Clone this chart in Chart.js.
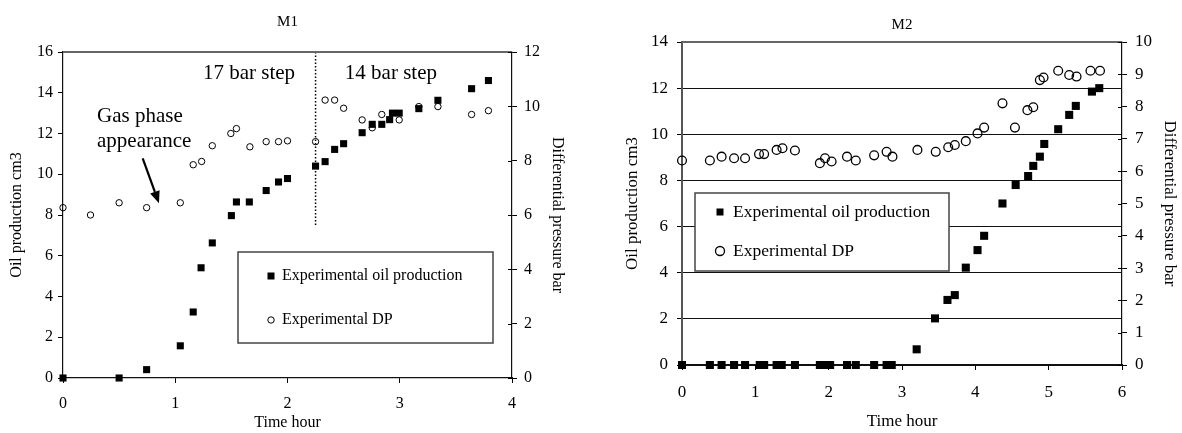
<!DOCTYPE html>
<html>
<head>
<meta charset="utf-8">
<script src="https://cdn.jsdelivr.net/npm/chart.js@4.4.1/dist/chart.umd.min.js"></script>
<style>
  body { margin: 0; background: #fff; }
  #wrap { position: relative; width: 1182px; height: 433px; }
  canvas { position: absolute; top: 0; }
</style>
</head>
<body>
<div id="wrap">
  <canvas id="m1" width="590" height="433" style="left:0"></canvas>
  <canvas id="m2" width="592" height="433" style="left:590px"></canvas>
</div>
<script>
// M1 DATA
// =======
const m1OilTime = [0, 0.50, 0.745, 1.045, 1.16, 1.23, 1.33, 1.50, 1.545, 1.66, 1.81, 1.92, 2.0,
    2.25, 2.335, 2.42, 2.50, 2.665, 2.755, 2.84, 2.91, 2.935, 2.995, 3.17, 3.34, 3.64, 3.79];
const m1Oil = [0, 0, 0.41, 1.58, 3.24, 5.41, 6.63, 7.97, 8.64, 8.64, 9.2, 9.62, 9.79,
    10.4, 10.62, 11.22, 11.5, 12.04, 12.45, 12.45, 12.68, 13.0, 13.0, 13.22, 13.63, 14.2, 14.6];

const m1DpTime = [0, 0.245, 0.50, 0.745, 1.045, 1.16, 1.235, 1.33, 1.495, 1.545, 1.665, 1.81, 1.92, 2.0,
    2.25, 2.335, 2.42, 2.50, 2.665, 2.755, 2.84, 2.995, 3.17, 3.34, 3.64, 3.79];
const m1Dp = [6.27, 6.0, 6.45, 6.27, 6.45, 7.85, 7.97, 8.55, 9.0, 9.18, 8.51, 8.7, 8.7, 8.73,
    8.7, 10.23, 10.23, 9.93, 9.5, 9.21, 9.7, 9.5, 9.99, 9.99, 9.7, 9.84];

// pressure step change (dotted line)
const stepTime = [2.25, 2.25];
const stepOil = [16, 7.45];

// M2 DATA
// =======
const m2OilTime = [0, 0.38, 0.54, 0.71, 0.86, 1.06, 1.12, 1.29, 1.36, 1.54, 1.88, 1.95, 2.02, 2.25, 2.37, 2.62, 2.79, 2.86,
    3.20, 3.45, 3.62, 3.72, 3.87, 4.03, 4.12, 4.37, 4.55, 4.72, 4.79, 4.88, 4.94, 5.13, 5.28, 5.37, 5.59, 5.69];
const m2Oil = [0, 0, 0, 0, 0, 0, 0, 0, 0, 0, 0, 0, 0, 0, 0, 0, 0, 0,
    0.68, 2.02, 2.82, 3.03, 4.22, 4.98, 5.6, 7.0, 7.8, 8.19, 8.63, 9.03, 9.58, 10.22, 10.84, 11.23, 11.85, 12.0];

const m2DpTime = [0, 0.38, 0.54, 0.71, 0.86, 1.05, 1.12, 1.29, 1.37, 1.54, 1.88, 1.95, 2.04, 2.25, 2.37, 2.62, 2.79, 2.87,
    3.21, 3.46, 3.63, 3.72, 3.87, 4.03, 4.12, 4.37, 4.54, 4.71, 4.79, 4.88, 4.93, 5.13, 5.28, 5.38, 5.57, 5.70];
const m2Dp = [6.33, 6.33, 6.45, 6.40, 6.40, 6.53, 6.53, 6.66, 6.71, 6.64, 6.25, 6.40, 6.30, 6.45, 6.33, 6.49, 6.60, 6.45,
    6.66, 6.60, 6.74, 6.81, 6.93, 7.17, 7.35, 8.10, 7.35, 7.89, 7.98, 8.82, 8.90, 9.11, 8.98, 8.93, 9.11, 9.11];

const legendLabels = ['Experimental oil production', 'Experimental DP'];

const SERIF = '"Liberation Serif", "Times New Roman", serif';

function pts(xs, ys) {
    return xs.map((x, i) => ({ x, y: ys[i] }));
}

// DECOR PLUGIN
// ============
// title, frame top line, inner ticks, in-plot legend box, text notes and arrow
const decor = {
    id: 'decor',
    afterDatasetsDraw(chart, args, o) {
        const { ctx, chartArea: a, scales } = chart;
        ctx.save();

        // top frame line
        ctx.strokeStyle = '#666';
        ctx.lineWidth = 2;
        ctx.beginPath();
        ctx.moveTo(a.left, a.top);
        ctx.lineTo(a.right, a.top);
        ctx.stroke();

        // right axis ticks cross the axis line
        ctx.strokeStyle = '#000';
        ctx.lineWidth = 1;
        scales.y1.ticks.forEach((t) => {
            const py = Math.round(scales.y1.getPixelForValue(t.value)) + 0.5;
            ctx.beginPath();
            ctx.moveTo(a.right - 4, py);
            ctx.lineTo(a.right, py);
            ctx.stroke();
        });

        // title
        ctx.fillStyle = '#000';
        ctx.font = `${o.titleSize}px ${SERIF}`;
        ctx.textAlign = 'center';
        ctx.textBaseline = 'middle';
        ctx.fillText(o.title, (a.left + a.right) / 2, o.titleY);

        // notes
        ctx.textAlign = 'left';
        ctx.textBaseline = 'alphabetic';
        (o.notes || []).forEach((n) => {
            ctx.font = `${n.size}px ${SERIF}`;
            ctx.fillText(n.text, scales.x.getPixelForValue(n.x), scales.y.getPixelForValue(n.y));
        });

        // arrow
        if (o.arrow) {
            const x0 = scales.x.getPixelForValue(o.arrow.x0), y0 = scales.y.getPixelForValue(o.arrow.y0);
            const x1 = scales.x.getPixelForValue(o.arrow.x1), y1 = scales.y.getPixelForValue(o.arrow.y1);
            const ang = Math.atan2(y1 - y0, x1 - x0);
            const head = 12, half = 5;
            ctx.strokeStyle = '#000';
            ctx.lineWidth = 2.2;
            ctx.beginPath();
            ctx.moveTo(x0, y0);
            ctx.lineTo(x1 - Math.cos(ang) * head, y1 - Math.sin(ang) * head);
            ctx.stroke();
            ctx.fillStyle = '#000';
            ctx.beginPath();
            ctx.moveTo(x1, y1);
            ctx.lineTo(x1 - Math.cos(ang) * head - Math.sin(ang) * half, y1 - Math.sin(ang) * head + Math.cos(ang) * half);
            ctx.lineTo(x1 - Math.cos(ang) * head + Math.sin(ang) * half, y1 - Math.sin(ang) * head - Math.cos(ang) * half);
            ctx.closePath();
            ctx.fill();
        }

        // legend box
        const L = o.legend;
        ctx.fillStyle = '#fff';
        ctx.fillRect(L.x, L.y, L.w, L.h);
        ctx.strokeStyle = '#444';
        ctx.lineWidth = 1.5;
        ctx.strokeRect(L.x, L.y, L.w, L.h);
        ctx.fillStyle = '#000';
        ctx.fillRect(L.mx - L.sq / 2, L.rows[0] - L.sq / 2, L.sq, L.sq);
        ctx.strokeStyle = '#000';
        ctx.lineWidth = L.cw;
        ctx.beginPath();
        ctx.arc(L.mx, L.rows[1], L.cr, 0, Math.PI * 2);
        ctx.stroke();
        ctx.font = `${L.size}px ${SERIF}`;
        ctx.textBaseline = 'middle';
        ctx.fillText(legendLabels[0], L.tx, L.rows[0]);
        ctx.fillText(legendLabels[1], L.tx, L.rows[1]);

        ctx.restore();
    },
};

function scale(cfg) {
    return {
        type: 'linear',
        position: cfg.position,
        min: cfg.min,
        max: cfg.max,
        ticks: {
            stepSize: cfg.step,
            color: '#000',
            padding: cfg.pad,
            font: { family: SERIF, size: cfg.size },
        },
        grid: {
            drawOnChartArea: !!cfg.grid,
            color: '#111',
            lineWidth: 1,
            tickLength: 5,
            tickColor: '#000',
        },
        border: { color: cfg.axisColor || '#111', width: cfg.axisWidth || 1.2 },
        title: {
            display: true,
            text: cfg.title,
            color: '#000',
            padding: cfg.titlePad,
            font: { family: SERIF, size: cfg.size },
        },
        afterFit: (s) => {
            if (cfg.width !== undefined) s.width = cfg.width;
            if (cfg.height !== undefined) s.height = cfg.height;
        },
    };
}

// M1 CHART
// ========
new Chart(document.getElementById('m1'), {
    type: 'scatter',
    data: {
        datasets: [
            {
                label: legendLabels[0],
                data: pts(m1OilTime, m1Oil),
                yAxisID: 'y',
                pointStyle: 'rect',
                pointRadius: 5,
                backgroundColor: '#000',
                borderColor: '#000',
                borderWidth: 0,
                clip: false,
            },
            {
                label: legendLabels[1],
                data: pts(m1DpTime, m1Dp),
                yAxisID: 'y1',
                pointStyle: 'circle',
                pointRadius: 3.2,
                backgroundColor: 'rgba(0,0,0,0)',
                borderColor: '#000',
                borderWidth: 1,
                clip: false,
            },
            {
                label: 'step',
                data: pts(stepTime, stepOil),
                yAxisID: 'y',
                showLine: true,
                pointRadius: 0,
                borderColor: '#000',
                borderWidth: 1.5,
                borderDash: [1.5, 2],
                clip: false,
            },
        ],
    },
    options: {
        responsive: false,
        animation: false,
        layout: { padding: { top: 52, left: 0, right: 0, bottom: 0 } },
        scales: {
            x: scale({ position: 'bottom', min: 0, max: 4, step: 1, pad: 11, size: 16,
                title: 'Time hour', titlePad: { top: 0, bottom: 1 }, height: 55 }),
            y: scale({ position: 'left', min: 0, max: 16, step: 2, pad: 5, size: 16,
                title: 'Oil production cm3', titlePad: { top: 7, bottom: 0 }, width: 63 }),
            y1: scale({ position: 'right', min: 0, max: 12, step: 2, pad: 7, size: 16,
                title: 'Differential pressure bar', titlePad: { top: 23, bottom: 0 }, width: 78 }),
        },
        plugins: {
            legend: { display: false },
            tooltip: { enabled: false },
            decor: {
                title: 'M1',
                titleY: 22,
                titleSize: 15,
                notes: [
                    { text: '17 bar step', x: 1.247, y: 14.66, size: 21 },
                    { text: '14 bar step', x: 2.511, y: 14.66, size: 21 },
                    { text: 'Gas phase', x: 0.303, y: 12.55, size: 21 },
                    { text: 'appearance', x: 0.303, y: 11.32, size: 21 },
                ],
                arrow: { x0: 0.71, y0: 10.78, x1: 0.855, y1: 8.58 },
                legend: { x: 238, y: 252, w: 255, h: 91, mx: 271, tx: 282, rows: [276, 320],
                    sq: 7, cr: 3.2, cw: 1, size: 16 },
            },
        },
    },
    plugins: [decor],
});

// M2 CHART
// ========
new Chart(document.getElementById('m2'), {
    type: 'scatter',
    data: {
        datasets: [
            {
                label: legendLabels[0],
                data: pts(m2OilTime, m2Oil),
                yAxisID: 'y',
                pointStyle: 'rect',
                pointRadius: 5.7,
                backgroundColor: '#000',
                borderColor: '#000',
                borderWidth: 0,
                clip: false,
            },
            {
                label: legendLabels[1],
                data: pts(m2DpTime, m2Dp),
                yAxisID: 'y1',
                pointStyle: 'circle',
                pointRadius: 4.4,
                backgroundColor: 'rgba(0,0,0,0)',
                borderColor: '#000',
                borderWidth: 1.3,
                clip: false,
            },
        ],
    },
    options: {
        responsive: false,
        animation: false,
        layout: { padding: { top: 42, left: 0, right: 0, bottom: 0 } },
        scales: {
            x: scale({ position: 'bottom', min: 0, max: 6, step: 1, pad: 12, size: 17,
                title: 'Time hour', titlePad: { top: 0, bottom: 1 }, height: 68 }),
            y: scale({ position: 'left', min: 0, max: 14, step: 2, pad: 9, size: 17, grid: true,
                axisColor: '#555', axisWidth: 2,
                title: 'Oil production cm3', titlePad: { top: 32, bottom: 0 }, width: 92 }),
            y1: scale({ position: 'right', min: 0, max: 10, step: 1, pad: 8, size: 17,
                title: 'Differential pressure bar', titlePad: { top: 2, bottom: 0 }, width: 60 }),
        },
        plugins: {
            legend: { display: false },
            tooltip: { enabled: false },
            decor: {
                title: 'M2',
                titleY: 25,
                titleSize: 15,
                legend: { x: 105, y: 193, w: 254, h: 78, mx: 130, tx: 143, rows: [212, 251],
                    sq: 7, cr: 4.5, cw: 1.3, size: 17.5 },
            },
        },
    },
    plugins: [decor],
});
</script>
</body>
</html>
